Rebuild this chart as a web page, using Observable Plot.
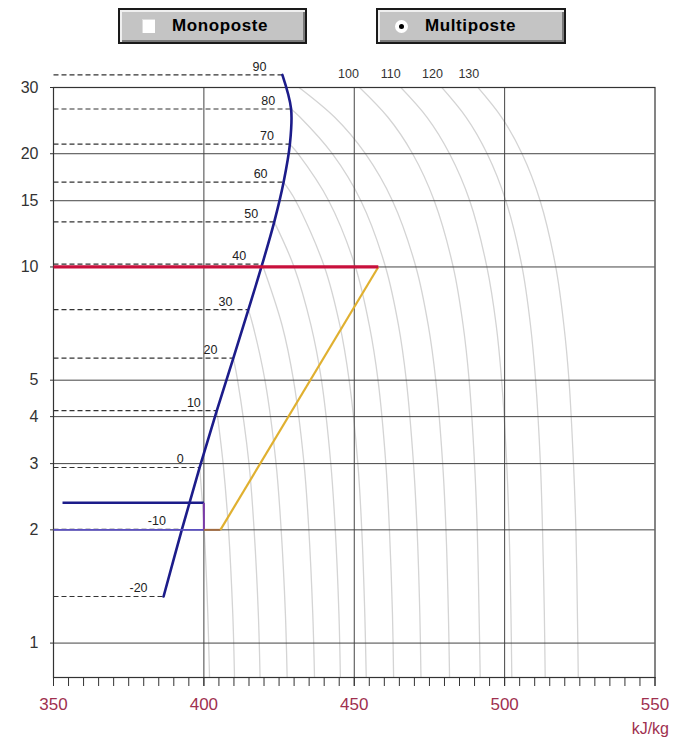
<!DOCTYPE html>
<html>
<head>
<meta charset="utf-8">
<script src="https://cdn.jsdelivr.net/npm/d3@7"></script>
<script src="https://cdn.jsdelivr.net/npm/@observablehq/plot@0.6"></script>
<style>
body{margin:0;background:#fff;font-family:"Liberation Sans",Arial,sans-serif;}
#top{position:relative;width:680px;height:50px;}
.btn{position:absolute;top:8px;height:32px;background:#c4c4c4;border:2px solid #1a1a1a;box-shadow:inset 2px 2px 0 #efefef, inset -2px -2px 0 #7a7a7a;}
.btn .lbl{position:absolute;top:6px;font-weight:bold;font-size:17px;letter-spacing:0.6px;color:#000;}
.chk{position:absolute;left:22px;top:9px;width:13px;height:14px;background:#fff;box-shadow:inset 1px 1px 0 #ddd;}
.radio{position:absolute;left:17px;top:10px;width:13px;height:13px;border-radius:50%;background:#fff;}
.radio::after{content:"";position:absolute;left:4px;top:4px;width:5px;height:5px;border-radius:50%;background:#000;}
#chart svg{display:block;}
</style>
</head>
<body>
<div id="top">
  <div class="btn" style="left:118px;width:185px;"><span class="chk"></span><span class="lbl" style="left:52px;">Monoposte</span></div>
  <div class="btn" style="left:376px;width:186px;"><span class="radio"></span><span class="lbl" style="left:47px;">Multiposte</span></div>
</div>
<div id="chart"></div>
<script>
// Axes
const xDomain = [350, 550];
const xMajorTicks = [350, 400, 450, 500, 550];
const yDomain = [0.81, 30];
const yTicks = [1, 2, 3, 4, 5, 10, 15, 20, 30];
const xGrid = [400, 450, 500];

// Saturated vapour line (temperature °C, pressure bar, enthalpy kJ/kg)
const satT = [-20, -10, 0, 10, 20, 30, 40, 50, 60, 70, 80, 90];
const satP = [1.33, 2.006, 2.93, 4.15, 5.72, 7.70, 10.17, 13.18, 16.8, 21.2, 26.3, 32.4];
const satH = [386.6, 392.7, 398.6, 404.3, 409.8, 414.8, 419.4, 423.4, 426.5, 428.6, 429.0, 426.1];

// Isotherms in the superheated region
const isoTemps = [0, 10, 20, 30, 40, 50, 60, 70, 80, 90, 100, 110, 120, 130];
const isoPressures = [32, 25, 20, 15, 10, 7, 5, 3, 2, 1.2, 0.8];
const isoEnthalpy = [
  [null, null, null, null, null, null, null, null, 400.1, 401.3, 401.9],
  [null, null, null, null, null, null, null, 406.4, 408.2, 409.6, 410.2],
  [null, null, null, null, null, null, 411.2, 415.0, 416.7, 418.1, 418.7],
  [null, null, null, null, null, 416.3, 420.3, 424.0, 425.7, 427.1, 427.7],
  [null, null, null, null, null, 426.0, 429.8, 433.3, 434.9, 436.2, 436.8],
  [null, null, null, null, 430.0, 435.6, 439.1, 442.2, 443.7, 444.9, 445.4],
  [null, null, null, 430.5, 440.1, 445.2, 448.3, 451.2, 452.5, 453.5, 454.0],
  [null, null, 431.3, 441.5, 450.4, 455.0, 457.9, 460.5, 461.7, 462.7, 463.1],
  [null, 432.0, 442.7, 452.2, 460.4, 464.7, 467.3, 469.7, 470.9, 471.8, 472.2],
  [null, 443.5, 453.7, 462.7, 470.5, 474.6, 477.1, 479.4, 480.5, 481.3, 481.7],
  [448.1, 461.2, 469.4, 476.6, 482.9, 486.2, 488.2, 490.0, 490.9, 491.5, 491.9],
  [462.1, 474.2, 481.7, 488.4, 494.1, 497.2, 499.0, 500.7, 501.5, 502.1, 502.4],
  [476.0, 487.2, 494.2, 500.4, 505.8, 508.6, 510.3, 511.9, 512.6, 513.2, 513.5],
  [488.1, 499.0, 505.8, 511.8, 517.0, 519.7, 521.4, 522.9, 523.7, 524.2, 524.5]
];
const isoLabelTemps = [100, 110, 120, 130];

// Cycle
const condP = 10, condH = [350, 458];          // condensation (red)
const compH = [405.5, 458], compP = [2, 10];  // compression (yellow)
const evapP = 2.36, evapH = [353, 400];       // blue line
const dropH = 400, dropP = [2.36, 2];         // vertical drop
const lowP = 2, lowH = [350, 400];            // low pressure line
const superH = [400, 405.5];                  // superheat segment

// Build tables
const sat = satT.map((t, i) => ({t, p: satP[i], h: satH[i]}));
const iso = [];
isoTemps.forEach((T, i) => {
  const j = satT.indexOf(T);
  if (j >= 0) iso.push({T, p: satP[j], h: satH[j]});
  isoPressures.forEach((p, k) => {
    const h = isoEnthalpy[i][k];
    if (h != null) iso.push({T, p, h});
  });
});
const isoLabels = isoLabelTemps.map(T => ({T, p: isoPressures[0], h: isoEnthalpy[isoTemps.indexOf(T)][0]}));
const seg = (h1, p1, h2, p2) => ({h1, p1, h2, p2});
const minorTicks = d3.range(xDomain[0], xDomain[1] + 1, 5);

const chart = Plot.plot({
  width: 680,
  height: 692,
  marginLeft: 53,
  marginRight: 25.5,
  marginTop: 37,
  marginBottom: 65,
  style: {fontFamily: "'Liberation Sans', Arial, sans-serif", background: "#fff", overflow: "visible"},
  x: {domain: xDomain},
  y: {type: "log", domain: yDomain},
  marks: [
    Plot.line(iso, {x: "h", y: "p", z: "T", curve: "catmull-rom", stroke: "#d4d4d4", strokeWidth: 1.3, clip: true}),
    Plot.ruleY(yTicks, {stroke: "#444", strokeWidth: 1}),
    Plot.ruleX(xGrid, {stroke: "#444", strokeWidth: 1}),
    Plot.frame({stroke: "#333", strokeWidth: 1.2}),
    Plot.link(sat, {x1: d => xDomain[0], x2: "h", y1: "p", y2: "p", stroke: "#333", strokeWidth: 1.2, strokeDasharray: "5,3"}),
    Plot.line(sat, {x: "h", y: "p", curve: "catmull-rom", stroke: "#1c1c8a", strokeWidth: 2.6}),
    Plot.link([seg(lowH[0], lowP, lowH[1], lowP)], {x1: "h1", y1: "p1", x2: "h2", y2: "p2", stroke: "#5a4fc0", strokeWidth: 1.6}),
    Plot.link([seg(evapH[0], evapP, evapH[1], evapP)], {x1: "h1", y1: "p1", x2: "h2", y2: "p2", stroke: "#1c1c8a", strokeWidth: 2.6}),
    Plot.link([seg(dropH, dropP[0], dropH, dropP[1])], {x1: "h1", y1: "p1", x2: "h2", y2: "p2", stroke: "#7a3aa8", strokeWidth: 2}),
    Plot.link([seg(superH[0], lowP, superH[1], lowP)], {x1: "h1", y1: "p1", x2: "h2", y2: "p2", stroke: "#a06a40", strokeWidth: 2}),
    Plot.link([seg(compH[0], compP[0], compH[1], compP[1])], {x1: "h1", y1: "p1", x2: "h2", y2: "p2", stroke: "#e0b030", strokeWidth: 2.2}),
    Plot.link([seg(condH[0], condP, condH[1], condP)], {x1: "h1", y1: "p1", x2: "h2", y2: "p2", stroke: "#c8103c", strokeWidth: 3.2}),
    Plot.text(sat, {x: "h", y: "p", text: d => String(d.t), textAnchor: "end", dx: -16, dy: -8, fontSize: 12.5, fill: "#222"}),
    Plot.text(isoLabels, {x: "h", y: "p", text: d => String(d.T), dy: -3, fontSize: 12.5, fill: "#333"}),
    Plot.axisY({ticks: yTicks, tickFormat: d => String(d), tickSize: 3, tickPadding: 12, fontSize: 16, color: "#333"}),
    Plot.axisX({ticks: minorTicks, tickFormat: () => "", tickSize: 9, stroke: "#333"}),
    Plot.axisX({ticks: xMajorTicks, tickFormat: d => String(d), tickSize: 9, tickPadding: 11, fontSize: 17, fill: "#a0304f", stroke: "#333"}),
    Plot.text(["kJ/kg"], {frameAnchor: "bottom-right", text: d => d, textAnchor: "end", dx: 14, dy: 56, fontSize: 16, fill: "#a0304f"})
  ]
});
document.getElementById("chart").appendChild(chart);
</script>
</body>
</html>
